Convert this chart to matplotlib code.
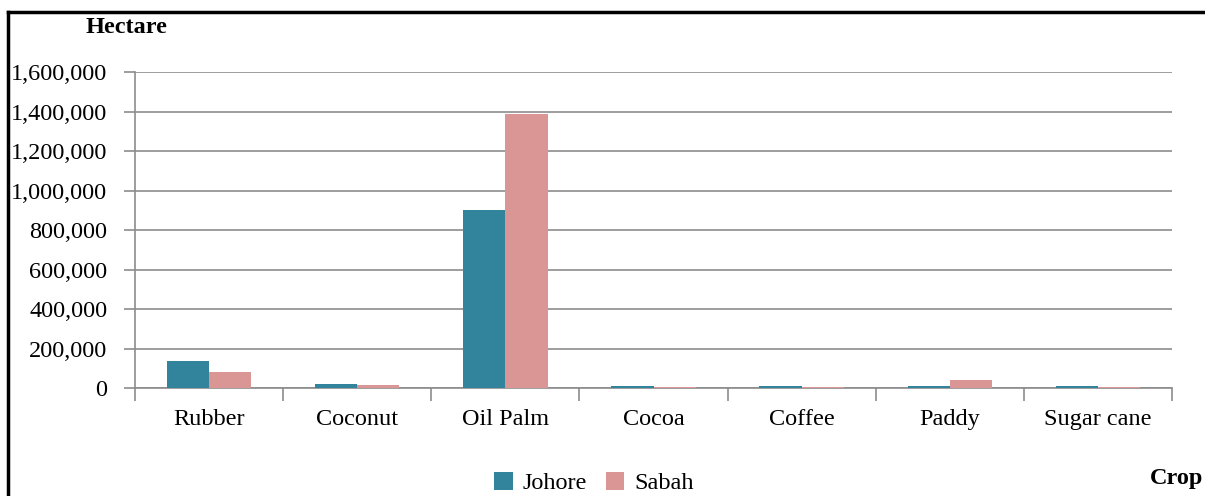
import matplotlib.pyplot as plt
import numpy as np
from matplotlib.lines import Line2D
from matplotlib.ticker import FuncFormatter

plt.rcParams['font.family'] = ['Liberation Serif', 'DejaVu Serif']

crops = ["Rubber", "Coconut", "Oil Palm", "Cocoa", "Coffee", "Paddy", "Sugar cane"]
johore = [137000, 20000, 900000, 9000, 9000, 9000, 8000]
sabah = [82000, 15000, 1385000, 7000, 7000, 40000, 7000]

fig = plt.figure(figsize=(12.05, 4.96), dpi=100)
ax = fig.add_axes([0.112, 0.2177, 0.8607, 0.6371])

x = np.arange(len(crops))
w = 0.285
ax.bar(x - w / 2, johore, width=w, color="#31849B", label="Johore", zorder=3)
ax.bar(x + w / 2, sabah, width=w, color="#D99694", label="Sabah", zorder=3)

ax.set_ylim(0, 1600000)
ax.set_xlim(-0.5, len(crops) - 0.5)
ax.set_yticks(np.arange(0, 1600001, 200000))
ax.yaxis.set_major_formatter(FuncFormatter(lambda v, p: f"{int(v):,}"))
ax.grid(axis="y", color="#8c8c8c", linewidth=1.2, zorder=0)

# category labels centred, tick marks on the boundaries
ax.set_xticks(np.arange(-0.5, len(crops)), minor=False)
ax.set_xticklabels([])
ax.set_xticks(x, minor=True)
ax.set_xticklabels(crops, minor=True, fontsize=17.5)
ax.tick_params(axis="x", which="minor", length=0, pad=15)
ax.tick_params(axis="x", which="major", length=9, color="#8c8c8c", width=1.2)
ax.tick_params(axis="y", length=8, color="#8c8c8c", width=1.2, labelsize=17.5, pad=12)

for s in ["top", "right"]:
    ax.spines[s].set_visible(False)
for s in ["left", "bottom"]:
    ax.spines[s].set_color("#8c8c8c")
    ax.spines[s].set_linewidth(1.2)

fig.text(0.071, 0.945, "Hectare", fontsize=17.5, fontweight="bold", va="center")
fig.text(0.954, 0.036, "Crop", fontsize=17.5, fontweight="bold", va="center")

ax.legend(loc="center", bbox_to_anchor=(0.493, 0.026), bbox_transform=fig.transFigure,
          ncol=2, frameon=False, fontsize=17.5, handlelength=0.75, handleheight=0.75,
          handletextpad=0.4, columnspacing=0.8, borderpad=0)

# frame lines along the top and left edge
fig.add_artist(Line2D([0.0066, 0.0066], [0, 0.975], color="black", lw=2.5, transform=fig.transFigure))
fig.add_artist(Line2D([0.0066, 1.0], [0.975, 0.975], color="black", lw=2.5, transform=fig.transFigure))

fig.savefig("out.png", dpi=100)
